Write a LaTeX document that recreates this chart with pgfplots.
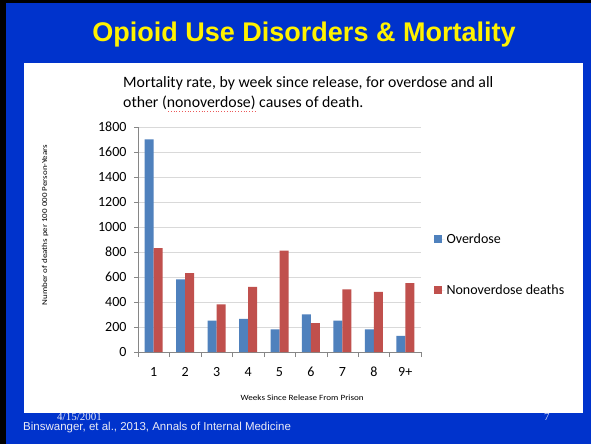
\documentclass[border=0pt]{standalone}
\usepackage{pgfplots}
\pgfplotsset{compat=1.18}
\usepackage{fontspec}
\setmainfont{Carlito}
\newfontfamily\arialf{Liberation Sans}
\newfontfamily\timesf{Liberation Serif}
\newfontfamily\widexf[FakeStretch=1.14]{Carlito}
\newfontfamily\wideyf[FakeStretch=1.2]{Carlito}
\definecolor{slideblue}{RGB}{0,51,204}
\definecolor{odblue}{RGB}{79,129,189}
\definecolor{nodred}{RGB}{192,80,77}
\definecolor{gridgray}{RGB}{217,217,217}
\definecolor{axgray}{RGB}{134,134,134}
\definecolor{foot}{RGB}{235,235,245}
\definecolor{squig}{RGB}{235,90,90}
\begin{document}
\begin{tikzpicture}
\useasboundingbox (0,0) rectangle (591pt,444pt);
\fill[slideblue] (0,0) rectangle (591pt,444pt);
\fill[black] (0,0) rectangle (6pt,444pt);
\fill[black] (0,441pt) rectangle (591pt,444pt);
\fill[white] (24pt,31pt) rectangle (583pt,381pt);
\node[text=yellow, font=\arialf\bfseries\fontsize{27}{30}\selectfont] at (304pt,409pt) {Opioid Use Disorders \& Mortality};
\node[anchor=base west, inner sep=0pt, font=\fontsize{15.8}{19}\selectfont] at (123pt,356pt) {Mortality rate, by week since release, for overdose and all};
\node[anchor=base west, inner sep=0pt, font=\fontsize{15.8}{19}\selectfont] at (123pt,336pt) {other (nonoverdose) causes of death.};
\draw[squig, dotted, line width=0.8pt] (168pt,332.5pt) -- (257pt,332.5pt);
\node[anchor=base west, inner sep=0pt, text depth=0pt, text=foot, font=\timesf\fontsize{11}{13}\selectfont] at (57pt,23.5pt) {4/15/2001};
\node[anchor=base west, inner sep=0pt, text=foot, font=\arialf\fontsize{11.5}{13}\selectfont] at (23pt,13.5pt) {Binswanger, et al., 2013, Annals of Internal Medicine};
\node[anchor=base west, inner sep=0pt, text=foot, font=\timesf\fontsize{11}{13}\selectfont] at (544pt,23.5pt) {7};
\begin{axis}[
  at={(138pt,92pt)}, anchor=south west, scale only axis,
  width=283pt, height=225pt,
  xmin=0.5, xmax=9.5, ymin=0, ymax=1800,
  ybar=0pt, bar width=9pt,
  xtick={1,...,9}, xticklabels={1,2,3,4,5,6,7,8,9+},
  major x tick style={draw=none},
  extra x ticks={0.5,1.5,...,9.5}, extra x tick labels={},
  extra x tick style={grid=none, major tick length=5pt, major x tick style={draw=axgray}},
  ytick={0,200,...,1800}, ymajorgrids, grid style={gridgray},
  axis x line*=bottom, axis y line*=left, axis line style={-, axgray},
  tick align=outside, major tick length=4pt, tick style={axgray},
  /pgf/number format/assume math mode=true,
  /pgf/number format/1000 sep={},
  ticklabel style={font=\fontsize{14}{16}\selectfont, text=black},
  xticklabel style={text height=2ex, text depth=0pt, yshift=-7pt},
  yticklabel style={xshift=-4pt},
  xlabel={Weeks Since Release From Prison},
  ylabel={Number of deaths per 100 000 Person-Years},
  xlabel style={at={(axis description cs:0.58,-0.2044)}, anchor=center, font=\widexf\fontsize{8}{10}\selectfont},
  ylabel style={at={(axis description cs:-0.3286,0.564)}, anchor=center, font=\wideyf\fontsize{7.5}{9}\selectfont},
  legend style={at={(axis description cs:1.033,0.545)}, anchor=north west, draw=none, fill=none,
    font=\fontsize{14}{16}\selectfont, row sep=36pt},
  legend cell align=left,
]
\addplot[fill=odblue, draw=none, legend image code/.code={\fill[odblue] (0pt,-4pt) rectangle (8pt,4pt); \path (0pt,0pt) -- (11pt,0pt);}] coordinates {(1,1700) (2,580) (3,250) (4,265) (5,180) (6,300) (7,250) (8,180) (9,130)};
\addplot[fill=nodred, draw=none, legend image code/.code={\fill[nodred] (0pt,-4pt) rectangle (8pt,4pt); \path (0pt,0pt) -- (11pt,0pt);}] coordinates {(1,830) (2,630) (3,380) (4,520) (5,810) (6,230) (7,500) (8,480) (9,550)};
\legend{Overdose, Nonoverdose deaths}
\end{axis}
\end{tikzpicture}
\end{document}
